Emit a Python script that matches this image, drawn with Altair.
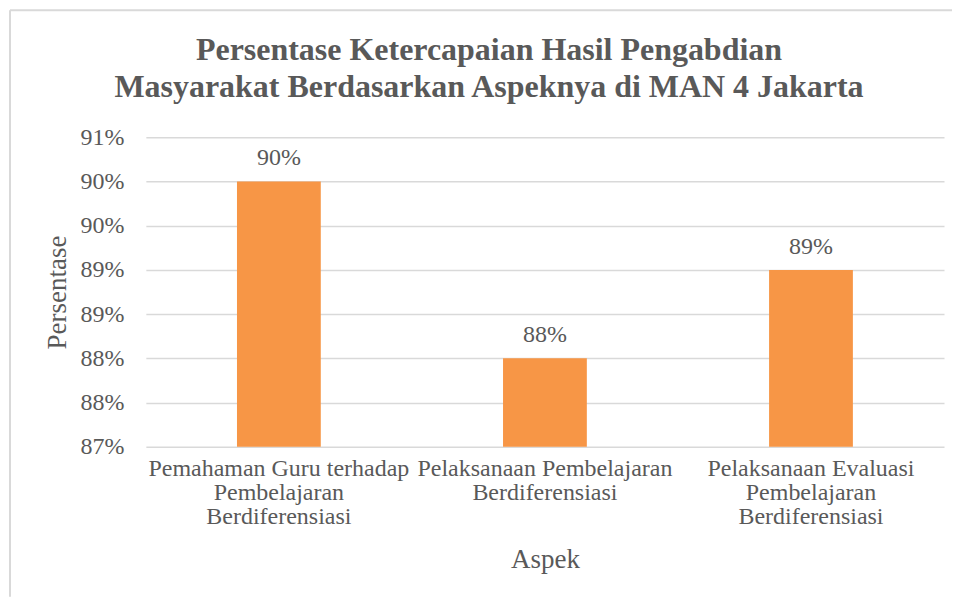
import altair as alt
import pandas as pd

categories = [
    "Pemahaman Guru terhadap|Pembelajaran|Berdiferensiasi",
    "Pelaksanaan Pembelajaran|Berdiferensiasi",
    "Pelaksanaan Evaluasi|Pembelajaran|Berdiferensiasi",
]
values = [0.90, 0.88, 0.89]
y_ticks = [0.870, 0.875, 0.880, 0.885, 0.890, 0.895, 0.900, 0.905]
title_lines = [
    "Persentase Ketercapaian Hasil Pengabdian",
    "Masyarakat Berdasarkan Aspeknya di MAN 4 Jakarta",
]

df = pd.DataFrame({"Aspek": categories, "Persentase": values})
title_df = pd.DataFrame({"t": ["|".join(title_lines)]})

FONT = "Liberation Serif, Times New Roman, serif"
TEXT = "#595959"
GRID = "#d9d9d9"
BAR = "#F79646"

x_enc = alt.X(
    "Aspek:N",
    sort=categories,
    title="Aspek",
    scale=alt.Scale(paddingInner=0.685, paddingOuter=0.3425),
    axis=alt.Axis(
        labelAngle=0,
        labelExpr="split(datum.label, '|')",
        labelLineHeight=24,
        labelPadding=10,
        labelFontSize=24,
        labelColor=TEXT,
        labelFont=FONT,
        ticks=False,
        domain=False,
        grid=False,
        titleFontSize=27,
        titleFont=FONT,
        titleColor=TEXT,
        titleFontWeight="normal",
        titlePadding=18,
        labelLimit=400,
    ),
)

y_enc = alt.Y(
    "Persentase:Q",
    title="Persentase",
    scale=alt.Scale(domain=[0.87, 0.905], nice=False, zero=False),
    axis=alt.Axis(
        values=y_ticks,
        labelExpr="floor(datum.value*100 + 0.5 + 1e-6) + '%'",
        labelFontSize=24,
        labelColor=TEXT,
        labelFont=FONT,
        labelPadding=22,
        ticks=False,
        domain=False,
        grid=True,
        gridColor=GRID,
        gridWidth=1.5,
        titleFontSize=27,
        titleFont=FONT,
        titleColor=TEXT,
        titleFontWeight="normal",
        titlePadding=8,
    ),
)

bars = alt.Chart(df).mark_bar(color=BAR).encode(
    x=x_enc, y=y_enc, y2=alt.Y2(datum=0.87)
)

labels = alt.Chart(df).mark_text(
    font=FONT, fontSize=24, color=TEXT, dy=-23
).encode(
    x=alt.X("Aspek:N", sort=categories),
    y=alt.Y("Persentase:Q"),
    text=alt.Text("Persentase:Q", format=".0%"),
)

# outer chart border: left and top edges only (right/bottom lie outside the picture)
frame_left = alt.Chart(title_df).mark_rule(color=GRID, strokeWidth=2).encode(
    x=alt.value(-136), y=alt.value(-127), y2=alt.value(460)
)
frame_top = alt.Chart(title_df).mark_rule(color=GRID, strokeWidth=2).encode(
    x=alt.value(-136), x2=alt.value(808), y=alt.value(-127)
)

title = alt.Chart(title_df).mark_text(
    font=FONT, fontSize=32, fontWeight="bold", color=TEXT,
    lineBreak="|", lineHeight=37, align="center", baseline="alphabetic",
).encode(
    x=alt.value(343.5), y=alt.value(-77), text="t:N"
)

chart = (
    alt.layer(frame_left, frame_top, bars, labels, title)
    .properties(
        width=799,
        height=310,
        padding={"left": 138, "top": 129, "right": 8, "bottom": 150},
        autosize=alt.AutoSizeParams(type="none"),
        view=alt.ViewBackground(stroke="transparent", strokeWidth=0),
    )
    .configure_view(stroke="transparent", strokeWidth=0, strokeOpacity=0)
    .configure_axis(domain=False)
    .configure_axisX(grid=False)
    .configure(background="white")
)

chart.save("out.html", embed_options={"renderer": "svg", "actions": False})
